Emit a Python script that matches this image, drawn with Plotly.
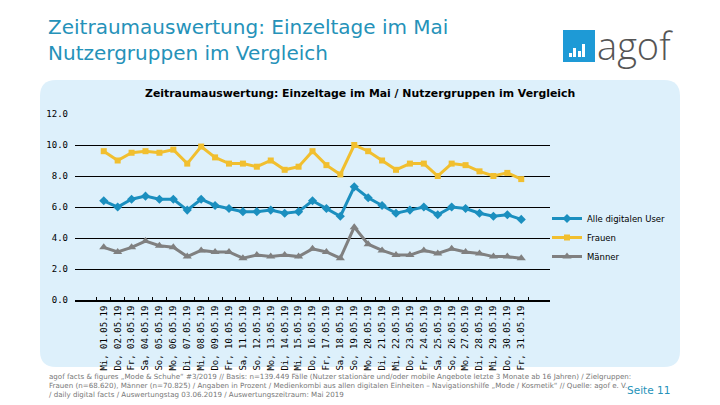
import plotly.graph_objects as go

days = ["Mi, 01.05.19", "Do, 02.05.19", "Fr, 03.05.19", "Sa, 04.05.19", "So, 05.05.19",
        "Mo, 06.05.19", "Di, 07.05.19", "Mi, 08.05.19", "Do, 09.05.19", "Fr, 10.05.19",
        "Sa, 11.05.19", "So, 12.05.19", "Mo, 13.05.19", "Di, 14.05.19", "Mi, 15.05.19",
        "Do, 16.05.19", "Fr, 17.05.19", "Sa, 18.05.19", "So, 19.05.19", "Mo, 20.05.19",
        "Di, 21.05.19", "Mi, 22.05.19", "Do, 23.05.19", "Fr, 24.05.19", "Sa, 25.05.19",
        "So, 26.05.19", "Mo, 27.05.19", "Di, 28.05.19", "Mi, 29.05.19", "Do, 30.05.19",
        "Fr, 31.05.19"]

alle = [6.4, 6.0, 6.5, 6.7, 6.5, 6.5, 5.8, 6.5, 6.1, 5.9, 5.7, 5.7, 5.8, 5.6, 5.7,
        6.4, 5.9, 5.4, 7.3, 6.6, 6.1, 5.6, 5.8, 6.0, 5.5, 6.0, 5.9, 5.6, 5.4, 5.5, 5.2]
frauen = [9.6, 9.0, 9.5, 9.6, 9.5, 9.7, 8.8, 9.9, 9.2, 8.8, 8.8, 8.6, 9.0, 8.4, 8.6,
          9.6, 8.7, 8.1, 10.0, 9.6, 9.0, 8.4, 8.8, 8.8, 8.0, 8.8, 8.7, 8.3, 8.0, 8.2, 7.8]
maenner = [3.4, 3.1, 3.4, 3.8, 3.5, 3.4, 2.8, 3.2, 3.1, 3.1, 2.7, 2.9, 2.8, 2.9, 2.8,
           3.3, 3.1, 2.7, 4.7, 3.6, 3.2, 2.9, 2.9, 3.2, 3.0, 3.3, 3.1, 3.0, 2.8, 2.8, 2.7]

series_names = ["Alle digitalen User", "Frauen", "Männer"]
y_ticks = [0, 2, 4, 6, 8, 10, 12]

W, H = 720, 405
L, R, T, B = 75, 550, 114, 300


def px(x):
    return (x - L) / (R - L)


def py(y):
    return (B - y) / (B - T)


fig = go.Figure()
styles = [
    (alle, "#1b8fbf", "diamond", 7),
    (frauen, "#f1bf2f", "square", 6),
    (maenner, "#808080", "triangle-up", 8),
]
for name, (vals, col, sym, ms) in zip(series_names, styles):
    fig.add_trace(go.Scatter(
        x=days, y=vals, name=name, mode="lines+markers",
        line=dict(color=col, width=3),
        marker=dict(symbol=sym, size=ms, color=col),
    ))

# rounded light-blue panel
x0, x1, y0, y1, r = 40, 680, 80, 367, 16
rx = r / (R - L)
ry = r / (B - T)
X0, X1, Y0, Y1 = px(x0), px(x1), py(y1), py(y0)
path = (f"M {X0+rx},{Y1} L {X1-rx},{Y1} Q {X1},{Y1} {X1},{Y1-ry} "
        f"L {X1},{Y0+ry} Q {X1},{Y0} {X1-rx},{Y0} L {X0+rx},{Y0} "
        f"Q {X0},{Y0} {X0},{Y0+ry} L {X0},{Y1-ry} Q {X0},{Y1} {X0+rx},{Y1} Z")
shapes = [dict(type="path", path=path, xref="paper", yref="paper",
               fillcolor="#ddf0fb", line=dict(width=0), layer="below")]

# logo square
lx0, ly0, lx1, ly1 = 563, 30, 595, 62
shapes.append(dict(type="rect", xref="paper", yref="paper",
                   x0=px(lx0), x1=px(lx1), y0=py(ly1), y1=py(ly0),
                   fillcolor="#1e9ad6", line=dict(width=0), layer="above"))
for bx, btop in [(569, 53), (573, 48), (578, 51), (582, 44)]:
    shapes.append(dict(type="rect", xref="paper", yref="paper",
                       x0=px(bx), x1=px(bx + 3), y0=py(57), y1=py(btop),
                       fillcolor="white", line=dict(width=0), layer="above"))

annotations = [
    dict(text="Zeitraumauswertung: Einzeltage im Mai<br>Nutzergruppen im Vergleich",
         x=px(47), y=py(40), xanchor="left", yanchor="middle", align="left",
         showarrow=False, xref="paper", yref="paper", borderpad=0,
         font=dict(family="DejaVu Sans", size=20, color="#2592b9")),
    dict(text="agof", x=px(595), y=py(45), xanchor="left", yanchor="middle",
         showarrow=False, xref="paper", yref="paper",
         font=dict(family="Open Sans", size=38, color="#555555", weight=300)),
    dict(text="<b>Zeitraumauswertung: Einzeltage im Mai / Nutzergruppen im Vergleich</b>",
         x=px(360), y=py(93), xanchor="center", yanchor="middle",
         showarrow=False, xref="paper", yref="paper",
         font=dict(family="DejaVu Sans", size=10.9, color="#000000")),
    dict(text="agof facts &amp; figures „Mode &amp; Schuhe“ #3/2019 // Basis: n=139.449 Fälle (Nutzer stationäre und/oder mobile Angebote letzte 3 Monate ab 16 Jahren) / Zielgruppen:<br>"
              "Frauen (n=68.620), Männer (n=70.825) / Angaben in Prozent / Medienkombi aus allen digitalen Einheiten – Navigationshilfe „Mode / Kosmetik“ // Quelle: agof e. V.<br>"
              "/ daily digital facts / Auswertungstag 03.06.2019 / Auswertungszeitraum: Mai 2019",
         x=px(47), y=py(370), xanchor="left", yanchor="top", align="left",
         showarrow=False, xref="paper", yref="paper",
         font=dict(family="DejaVu Sans", size=7.1, color="#777777")),
    dict(text="Seite 11", x=px(672), y=py(390), xanchor="right", yanchor="middle",
         showarrow=False, xref="paper", yref="paper",
         font=dict(family="DejaVu Sans", size=10.5, color="#2592b9")),
]

fig.update_layout(
    width=W, height=H,
    margin=dict(l=L, r=W - R, t=T, b=H - B, pad=0, autoexpand=False),
    paper_bgcolor="white", plot_bgcolor="rgba(0,0,0,0)",
    shapes=shapes, annotations=annotations,
    showlegend=True,
    legend=dict(x=px(547), y=py(204), xanchor="left", yanchor="top",
                bgcolor="rgba(0,0,0,0)", font=dict(family="DejaVu Sans", size=8.5, color="#000"),
                itemwidth=30, tracegroupgap=0),
    xaxis=dict(type="category", showgrid=False, showline=True, linecolor="black", linewidth=2,
               ticks="inside", ticklen=3, tickcolor="black", tickson="boundaries",
               tickangle=-90, tickfont=dict(family="DejaVu Sans Mono", size=9, color="#000"),
               zeroline=False, fixedrange=True),
    yaxis=dict(range=[0, 12], tickvals=y_ticks, tickformat=".1f", showgrid=True,
               gridcolor="black", gridwidth=1, zeroline=False, showline=False,
               tickfont=dict(family="DejaVu Sans Mono", size=9, color="#000"),
               ticklabelstandoff=6, fixedrange=True),
)

fig.write_html("out.html", config={"displayModeBar": False},
               post_script="document.body.style.margin='0';")
